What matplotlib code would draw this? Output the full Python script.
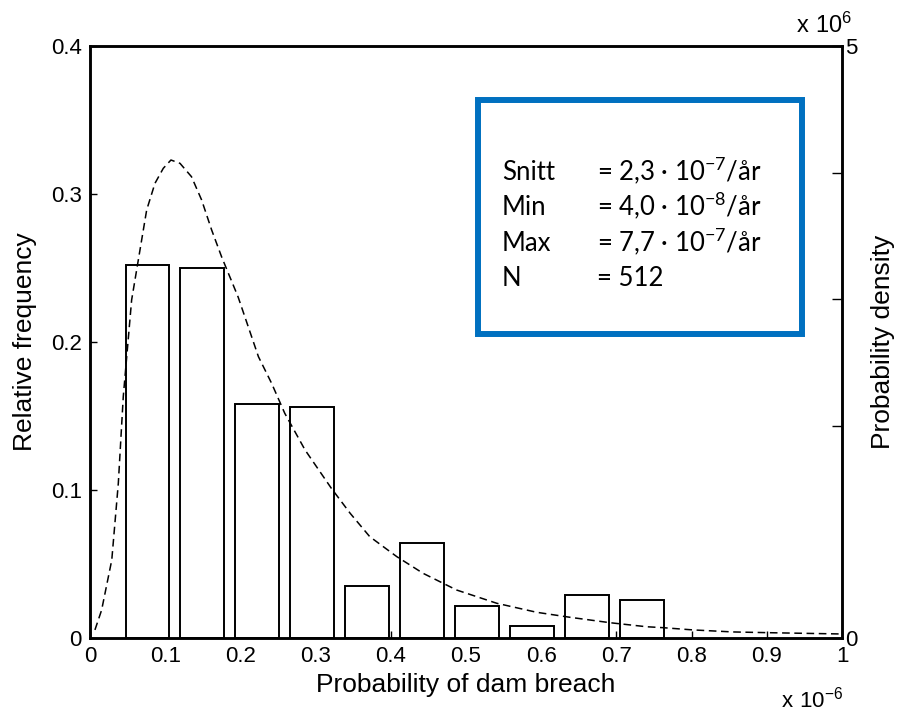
import numpy as np
import matplotlib
matplotlib.use('Agg')
import matplotlib.pyplot as plt
from matplotlib.patches import Rectangle

### values (x in units of 1e-6, density in units of 1e6) ###
bin_centers = [0.0765, 0.1495, 0.2225, 0.2955, 0.3685, 0.4415, 0.5145, 0.5875, 0.6605, 0.7335]
bin_counts = [129, 128, 81, 80, 18, 33, 11, 4, 15, 13]
n_total = 512
bar_width = 0.0584

pdf_x = [0.0066, 0.0155, 0.029, 0.0377, 0.0443, 0.0554, 0.0665, 0.0754, 0.0864, 0.0975,
         0.1077, 0.1197, 0.135, 0.1485, 0.1618, 0.175, 0.197, 0.224, 0.2416, 0.259,
         0.286, 0.321, 0.346, 0.372, 0.408, 0.443, 0.4876, 0.541, 0.594, 0.638,
         0.6915, 0.740, 0.762, 0.802, 0.855, 0.900, 0.944, 0.997]
pdf_y = [0.068, 0.236, 0.659, 1.307, 2.04, 2.855, 3.277, 3.615, 3.84, 3.967,
         4.037, 4.009, 3.896, 3.699, 3.446, 3.22, 2.88, 2.376, 2.15, 1.898,
         1.588, 1.264, 1.053, 0.856, 0.687, 0.546, 0.405, 0.293, 0.217, 0.175,
         0.129, 0.095, 0.087, 0.068, 0.051, 0.045, 0.040, 0.034]

x_ticks = [0, 0.1, 0.2, 0.3, 0.4, 0.5, 0.6, 0.7, 0.8, 0.9, 1]
x_ticklabels = ['0', '0.1', '0.2', '0.3', '0.4', '0.5', '0.6', '0.7', '0.8', '0.9', '1']
y_ticks = [0, 0.1, 0.2, 0.3, 0.4]
y_ticklabels = ['0', '0.1', '0.2', '0.3', '0.4']

box_names = ['Snitt', 'Min', 'Max', 'N']
box_values = [r'= 2,3 · 10$^{\mathregular{-7}}$/år',
              r'= 4,0 · 10$^{\mathregular{-8}}$/år',
              r'= 7,7 · 10$^{\mathregular{-7}}$/år',
              '= 512']

plt.rcParams['font.family'] = ['Liberation Sans', 'DejaVu Sans']
plt.rcParams['mathtext.fontset'] = 'custom'
plt.rcParams['mathtext.rm'] = 'Lato'

fig = plt.figure(figsize=(8.97, 7.11), dpi=100)
ax = fig.add_axes([0.1003, 0.1027, 0.8384, 0.8326])

rel_freq = np.array(bin_counts) / n_total
ax.bar(bin_centers, rel_freq, width=bar_width, facecolor='white',
       edgecolor='black', linewidth=1.4, zorder=2)

ax.set_xlim(0, 1)
ax.set_ylim(0, 0.4)
ax.set_xticks(x_ticks)
ax.set_xticklabels(x_ticklabels)
ax.set_yticks(y_ticks)
ax.set_yticklabels(y_ticklabels)
ax.tick_params(direction='in', length=5, width=1, labelsize=16, pad=6)
ax.set_xlabel('Probability of dam breach', fontsize=19, labelpad=4)
ax.set_ylabel('Relative frequency', fontsize=19, labelpad=10)
for s in ax.spines.values():
	s.set_linewidth(1.8)

ax2 = ax.twinx()
ax2.plot(pdf_x, pdf_y, color='black', linestyle=(0, (5, 3)), linewidth=1.1)
ax2.set_ylim(0, 5)
ax2.set_yticks([0, 1.79, 2.86, 3.93, 5])
ax2.set_yticklabels(['0', '', '', '', '5'])
ax2.tick_params(direction='in', length=7, width=1, labelsize=16, pad=2)
ax2.set_ylabel('Probability density', fontsize=19, labelpad=10)
for s in ax2.spines.values():
	s.set_linewidth(1.8)

# scale factors in the corners, matlab style
ax.text(0.977, 1.022, r'$\mathregular{x\ 10^{6}}$', transform=ax.transAxes,
        ha='center', va='baseline', fontsize=17)
ax.text(0.96, -0.1166, r'$\mathregular{x\ 10^{-6}}$', transform=ax.transAxes,
        ha='center', va='baseline', fontsize=16)

### stats box ###
ax2.add_patch(Rectangle((0.516, 0.5135), 0.431, 0.3955, transform=ax.transAxes,
                        fill=False, edgecolor='#0070C0', linewidth=4.3, zorder=5))
baselines = [0.7736, 0.7137, 0.6537, 0.5946]
for name, val, yb in zip(box_names, box_values, baselines):
	ax2.text(0.548, yb, name, transform=ax.transAxes, ha='left', va='baseline',
	         fontsize=18.5, family=['Lato', 'DejaVu Sans'])
	ax2.text(0.674, yb, val, transform=ax.transAxes, ha='left', va='baseline',
	         fontsize=18.5, family=['Lato', 'DejaVu Sans'])

fig.savefig('out.png', dpi=100)
